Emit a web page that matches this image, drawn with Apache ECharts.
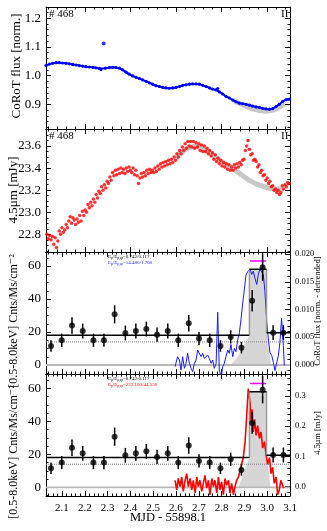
<!DOCTYPE html>
<html><head><meta charset="utf-8">
<script src="https://cdn.jsdelivr.net/npm/echarts@6/dist/echarts.min.js"></script>
<style>html,body{margin:0;padding:0;background:#fff}#c{width:327px;height:531px}</style>
</head><body><div id="c"></div>
<script>
// ---------- DATA ----------
// Panel 1: CoRoT normalised flux
const corotT = [2.030,2.045,2.059,2.074,2.088,2.103,2.118,2.132,2.147,2.162,2.176,2.191,2.205,2.220,2.235,2.249,2.264,2.271,2.290,2.308,2.322,2.337,2.352,2.366,2.381,2.395,2.410,2.425,2.439,2.454,2.469,2.483,2.498,2.512,2.527,2.542,2.556,2.571,2.586,2.600,2.615,2.630,2.644,2.659,2.673,2.688,2.703,2.717,2.732,2.747,2.761,2.776,2.783,2.790,2.805,2.819,2.834,2.849,2.863,2.878,2.893,2.907,2.922,2.936,2.951,2.966,2.980,2.995,3.010,3.024,3.039,3.053,3.068,3.083,3.097];
const corotFlux = [1.035,1.040,1.043,1.045,1.045,1.044,1.043,1.041,1.039,1.037,1.035,1.033,1.031,1.030,1.029,1.027,1.025,1.021,1.026,1.028,1.029,1.028,1.026,1.020,1.012,1.005,0.999,0.994,0.990,0.985,0.980,0.975,0.970,0.965,0.962,0.959,0.957,0.956,0.957,0.959,0.962,0.966,0.968,0.970,0.971,0.971,0.970,0.966,0.962,0.957,0.953,0.950,0.955,0.943,0.936,0.928,0.922,0.915,0.909,0.904,0.902,0.900,0.897,0.894,0.891,0.889,0.886,0.884,0.883,0.885,0.892,0.900,0.910,0.916,0.918];
const corotOutlierT = [2.283];
const corotOutlierFlux = [1.112];
const corotModelT = [2.849,2.878,2.907,2.936,2.966,2.995,3.024,3.053,3.075];
const corotModelFlux = [0.915,0.903,0.893,0.884,0.878,0.876,0.879,0.889,0.902];

// Panel 2: Spitzer 4.5um
const spitzerT = [2.034,2.040,2.046,2.052,2.058,2.064,2.070,2.076,2.082,2.088,
2.094,2.100,2.106,2.112,2.118,2.124,2.130,2.136,2.142,2.148,
2.154,2.160,2.166,2.172,2.178,2.184,2.190,2.196,2.202,2.208,
2.214,2.220,2.226,2.232,2.238,2.244,2.250,2.256,2.262,2.268,
2.274,2.280,2.286,2.292,2.298,2.304,2.310,2.316,2.322,2.328,
2.334,2.340,2.346,2.352,2.358,2.364,2.370,2.376,2.382,2.388,
2.394,2.400,2.406,2.412,2.418,2.424,2.430,2.436,2.442,2.448,
2.454,2.460,2.466,2.472,2.478,2.484,2.490,2.496,2.502,2.508,
2.514,2.520,2.526,2.532,2.538,2.544,2.550,2.556,2.562,2.568,
2.574,2.580,2.586,2.592,2.598,2.604,2.610,2.616,2.622,2.628,
2.634,2.640,2.646,2.652,2.658,2.664,2.670,2.676,2.682,2.688,
2.694,2.700,2.706,2.712,2.718,2.724,2.730,2.736,2.742,2.748,
2.754,2.760,2.766,2.772,2.778,2.784,2.790,2.796,2.802,2.808,
2.814,2.820,2.826,2.832,2.838,2.844,2.850,2.856,2.862,2.868,
2.874,2.880,2.886,2.892,2.898,2.904,2.910,2.916,2.922,2.928,
2.934,2.940,2.946,2.952,2.958,2.964,2.970,2.976,2.982,2.988,
2.994,3.000,3.006,3.012,3.018,3.024,3.030,3.036,3.042,3.048,
3.054,3.060,3.066,3.072,3.078,3.084,3.090,3.096];
const spitzerFlux = [22.80,22.76,22.79,22.75,22.78,22.71,22.77,22.68,22.74,22.83,
22.80,22.86,22.82,22.84,22.89,22.86,22.92,22.96,22.90,22.95,
22.93,22.89,22.94,22.91,22.97,22.92,23.01,22.97,23.02,23.00,
23.07,23.04,23.09,23.06,23.12,23.09,23.16,23.13,23.19,23.17,
23.23,23.20,23.25,23.22,23.28,23.26,23.32,23.29,23.36,23.33,
23.38,23.34,23.39,23.35,23.40,23.36,23.39,23.35,23.40,23.37,
23.41,23.38,23.36,23.40,23.34,23.38,23.33,23.26,23.31,23.35,
23.32,23.36,23.33,23.38,23.35,23.39,23.36,23.38,23.36,23.40,
23.37,23.42,23.39,23.44,23.41,23.45,23.42,23.46,23.43,23.47,
23.44,23.48,23.45,23.50,23.47,23.53,23.50,23.56,23.53,23.59,
23.56,23.62,23.58,23.64,23.60,23.64,23.59,23.64,23.58,23.63,
23.59,23.62,23.56,23.61,23.55,23.60,23.55,23.58,23.53,23.56,
23.51,23.54,23.48,23.52,23.46,23.49,23.44,23.47,23.42,23.45,
23.41,23.44,23.39,23.43,23.38,23.41,23.38,23.43,23.40,23.44,
23.41,23.45,23.43,23.47,23.48,23.56,23.60,23.65,23.57,23.52,
23.53,23.47,23.48,23.46,23.41,23.43,23.36,23.38,23.33,23.34,
23.29,23.31,23.26,23.28,23.23,23.24,23.20,23.21,23.18,23.20,
23.16,23.18,23.24,23.21,23.25,23.23,23.27,23.26];
const spitzerModelT = [2.60,2.64,2.68,2.72,2.76,2.80,2.84,2.88,2.92,2.96,3.00,3.04,3.07];
const spitzerModelFlux = [23.49,23.57,23.60,23.58,23.52,23.46,23.41,23.35,23.29,23.25,23.22,23.21,23.21];

// Panels 3/4: X-ray rate (Cnts/Ms/cm^-2)
const xrayT = [2.052,2.099,2.144,2.191,2.238,2.284,2.331,2.378,2.424,2.470,2.517,2.564,2.610,2.656,2.701,2.748,2.795,2.840,2.887,2.934,2.980,3.026,3.071];
const xrayRate = [11.5,15,24,20.6,15,15,30.7,19.4,20.6,21.8,18.4,20.6,15,25.3,16,15,11.5,17,10.5,39,59.2,19.6,19.6];
const xrayErr = [3.5,4,5,4.5,4,4,5.5,4.5,4.5,4.5,4.3,4.5,4,5,4,4,3.5,4,3.5,6.5,8.3,4.5,4.5];
const blockEdges = [2.03,2.922,2.997,3.1];
const blockLevels = [18,58,19.5];
const meanLevel = 14;
const flareFill3T = [2.840,2.870,2.895,2.922,2.922,2.997,2.997,3.008,3.017];
const flareFill3Y = [0,5,11,18,58,58,19.5,9,0];
const flareFill4T = [2.873,2.895,2.922,2.922,2.997,2.997,3.008,3.015];
const flareFill4Y = [0,8,18,58,58,19.5,8,0];
const magentaT = [2.925,2.995];
const magentaLevel = 63;

// Panel 3: CoRoT detrended
const corotDetT = [2.596,2.607,2.615,2.622,2.629,2.637,2.644,2.651,2.659,2.666,2.673,2.681,2.688,2.695,2.703,2.710,2.717,2.724,2.732,2.739,2.746,2.754,2.761,2.768,2.776,2.783,2.790,2.798,2.805,2.812,2.819,2.827,2.834,2.841,2.849,2.856,2.863,2.871,2.878,2.885,2.893,2.900,2.907,2.914,2.925,2.932,2.939,2.946,2.954,2.961,2.968,2.976,2.983,2.990,2.998,3.005,3.012,3.020,3.027,3.034,3.042,3.049,3.056,3.063,3.071,3.075];
const corotDetFlux = [-0.0003,0.0015,0.0009,-0.0009,0.0015,-0.0006,0.0003,0.0021,0.0003,-0.0006,-0.0012,0.0003,0.0009,0.0027,0.0024,0.0015,0.0021,0.0012,0.0009,0.0018,0.0012,0.0003,0.0009,-0.0006,0.0003,0.0095,-0.0009,-0.0021,-0.0003,0.0003,0.0015,0.0027,0.0021,0.0037,0.0015,0.0030,0.0024,0.0046,0.0058,0.0082,0.0113,0.0137,0.0162,0.0168,0.0173,0.0163,0.0169,0.0157,0.0145,0.0163,0.0173,0.0176,0.0163,0.0133,0.0078,0.0047,0.0023,0.0017,0.0005,-0.0010,-0.0007,0.0017,0.0042,0.0084,0.0035,-0.0001];

// Panel 4: Spitzer detrended
const spitzerDetT = [2.596,2.603,2.610,2.618,2.625,2.632,2.640,2.647,2.654,2.662,2.669,2.676,2.684,2.691,2.698,2.705,2.713,2.720,2.727,2.735,2.742,2.749,2.757,2.764,2.771,2.779,2.786,2.793,2.800,2.808,2.815,2.822,2.830,2.837,2.844,2.852,2.859,2.866,2.874,2.881,2.888,2.895,2.903,2.910,2.917,2.925,2.929,2.934,2.939,2.945,2.951,2.958,2.966,2.973,2.980,2.988,2.995,3.002,3.010,3.017,3.024,3.031,3.039,3.046,3.053,3.060,3.068,3.072];
const spitzerDetFlux = [0.021,-0.011,0.027,0,0.032,-0.016,0.021,0.043,0,0.027,-0.011,0.021,-0.021,0.032,0,0.021,-0.016,0.011,0.037,-0.005,0.021,-0.027,0.027,0,0.021,-0.021,0.032,-0.011,0.016,-0.027,0.027,0.005,0.021,-0.021,0.011,-0.027,0,0.021,0.032,0.053,0.074,0.096,0.149,0.234,0.325,0.277,0.213,0.255,0.181,0.223,0.170,0.202,0.160,0.181,0.128,0.149,0.106,0.074,0.096,0.043,0.064,0.011,0.032,-0.027,-0.011,0.021,0.027,-0.005];

// Tick labels
const xLabelsBottom = [2.1,2.2,2.3,2.4,2.5,2.6,2.7,2.8,2.9,3.0,3.1];
const xMajorTop = [2.2,2.4,2.6,2.8,3.0];
const yTicks1 = [0.9,1.0,1.1,1.2];
const yTicks2 = [22.8,23.0,23.2,23.4,23.6];
const yTicksRate = [0,20,40,60];
const yTicksCorotDet = [0,0.005,0.010,0.015,0.020];
const yTicksSpitzerDet = [0,0.1,0.2,0.3];

// ---------- CHART ----------
const FONT = "'Liberation Serif','DejaVu Serif',serif";
const XMIN = 2.03, XMAX = 3.1;
function ticks(a,b,step){const o=[];const n=Math.round((b-a)/step);for(let i=0;i<=n;i++)o.push(+(a+i*step).toFixed(6));return o;}
const zip=(a,b)=>a.map((v,i)=>[v,b[i]]);

const grids=[{top:7,height:122},{top:129,height:123},{top:252,height:122},{top:374,height:122}]
  .map(g=>({left:46,width:244,top:g.top,height:g.height,containLabel:false}));

function xAx(g,pos,major,minor,labels){
  return [
    {type:'value',gridIndex:g,position:pos,min:XMIN,max:XMAX,
     axisLine:{show:true,onZero:false,lineStyle:{color:'#000',width:1}},
     axisTick:{show:true,inside:true,length:5,customValues:major,lineStyle:{color:'#000',width:1}},
     axisLabel:{show:!!labels,customValues:labels||major,formatter:v=>v.toFixed(1),fontFamily:FONT,fontSize:11,color:'#000',margin:7},
     splitLine:{show:false}},
    {type:'value',gridIndex:g,position:pos,min:XMIN,max:XMAX,
     axisLine:{show:false,onZero:false},
     axisTick:{show:true,inside:true,length:2.5,customValues:minor,lineStyle:{color:'#000',width:1}},
     axisLabel:{show:false},splitLine:{show:false}}
  ];
}
function yAx(g,pos,min,max,major,minor,showLabel,fmt,fs,margin){
  return [
    {type:'value',gridIndex:g,position:pos,min:min,max:max,
     axisLine:{show:true,onZero:false,lineStyle:{color:'#000',width:1}},
     axisTick:{show:true,inside:true,length:5,customValues:major,lineStyle:{color:'#000',width:1}},
     axisLabel:{show:showLabel,customValues:major,formatter:fmt,fontFamily:FONT,fontSize:fs,color:'#000',margin:margin},
     splitLine:{show:false}},
    {type:'value',gridIndex:g,position:pos,min:min,max:max,
     axisLine:{show:false,onZero:false},
     axisTick:{show:true,inside:true,length:2.5,customValues:minor,lineStyle:{color:'#000',width:1}},
     axisLabel:{show:false},splitLine:{show:false}}
  ];
}
const topMinor = ticks(2.04,3.08,0.04);
const botMajor = ticks(2.1,3.0,0.1);
const botMinor = ticks(2.04,3.08,0.02);
const f1=v=>v.toFixed(1), f0=v=>String(Math.round(v)), f3=v=>v.toFixed(3);

const xAxis=[].concat(
  xAx(0,'bottom',xMajorTop,topMinor,null), xAx(0,'top',xMajorTop,topMinor,null),
  xAx(1,'bottom',xMajorTop,topMinor,null), xAx(1,'top',xMajorTop,topMinor,null),
  xAx(2,'bottom',botMajor,botMinor,null), xAx(2,'top',botMajor,botMinor,null),
  xAx(3,'bottom',botMajor,botMinor,xLabelsBottom), xAx(3,'top',botMajor,botMinor,null)
);
const R1=[0.814,1.239], R2=[22.64,23.754], RR3=[-5.45,68.5], RC=[-0.00162,0.02036], RR4=[-5.27,68.7], RS=[-0.031,0.373];
const yAxis=[].concat(
  yAx(0,'left',R1[0],R1[1],yTicks1,ticks(0.82,1.22,0.02),true,f1,13,5),
  yAx(0,'right',R1[0],R1[1],yTicks1,ticks(0.82,1.22,0.02),false,f1,9,5),
  yAx(1,'left',R2[0],R2[1],yTicks2,ticks(22.65,23.75,0.05),true,f1,13,5),
  yAx(1,'right',R2[0],R2[1],yTicks2,ticks(22.65,23.75,0.05),false,f1,9,5),
  yAx(2,'left',RR3[0],RR3[1],yTicksRate,ticks(-5,65,5),true,f0,13,5),
  yAx(2,'right',RC[0],RC[1],yTicksCorotDet,ticks(-0.001,0.020,0.001),true,f3,8.5,5),
  yAx(3,'left',RR4[0],RR4[1],yTicksRate,ticks(-5,65,5),true,f0,13,5),
  yAx(3,'right',RS[0],RS[1],yTicksSpitzerDet,ticks(-0.02,0.36,0.02),true,f1,8.5,5)
);

function lineS(g,yi,data,color,width,extra){
  return Object.assign({type:'line',xAxisIndex:4*g,yAxisIndex:4*g+yi,data:data,symbol:'none',
    lineStyle:{color:color,width:width},itemStyle:{color:color},silent:true},extra||{});
}
const series=[];
// Panel 1
series.push(lineS(0,0,zip(corotModelT,corotModelFlux),'#c8c8c8',5,{z:1}));
series.push(lineS(0,0,zip(corotT,corotFlux),'#0000ff',2,{z:2,symbol:'circle',symbolSize:3.2,showSymbol:true}));
series.push({type:'scatter',xAxisIndex:0,yAxisIndex:0,data:zip(corotOutlierT,corotOutlierFlux),symbolSize:4,itemStyle:{color:'#0000ff'},z:3});
// Panel 2
series.push(lineS(1,0,zip(spitzerModelT,spitzerModelFlux),'#c8c8c8',5,{z:1}));
series.push({type:'scatter',xAxisIndex:4,yAxisIndex:4,data:zip(spitzerT,spitzerFlux),symbolSize:3.5,itemStyle:{color:'#ff0000'},z:2});

// Panels 3 & 4
function xrayPanel(g,fillT,fillY,curveT,curveY,curveColor,curveWidth){
  series.push(lineS(g,0,zip(fillT,fillY),'#d6d6d6',0,{z:1,areaStyle:{color:'#d6d6d6',opacity:1},lineStyle:{width:0}}));
  series.push(lineS(g,0,[[XMIN,0],[XMAX,0]],'#b8b8b8',1.8,{z:2}));
  series.push(lineS(g,0,[[XMIN,meanLevel],[XMAX,meanLevel]],'#808080',1,{z:2,lineStyle:{color:'#808080',width:1,type:'dotted'}}));
  series.push(lineS(g,2,zip(curveT,curveY),curveColor,curveWidth,{z:3}));
  for(let i=1;i<blockEdges.length-1;i++){
    series.push(lineS(g,0,[[blockEdges[i],blockLevels[i-1]],[blockEdges[i],blockLevels[i]]],'#999999',1.5,{z:4}));
  }
  for(let i=0;i<blockLevels.length;i++){
    series.push(lineS(g,0,[[blockEdges[i],blockLevels[i]],[blockEdges[i+1],blockLevels[i]]],'#000',1.5,{z:5}));
  }
  series.push(lineS(g,0,[[magentaT[0],magentaLevel],[magentaT[1],magentaLevel]],'#ff00ff',1.5,{z:5}));
  series.push({type:'custom',xAxisIndex:4*g,yAxisIndex:4*g,z:6,silent:true,
    data:xrayT.map((t,i)=>[t,xrayRate[i]-xrayErr[i],xrayRate[i]+xrayErr[i]]),
    encode:{x:0,y:[1,2]},
    renderItem:function(p,api){const x=api.value(0);const a=api.coord([x,api.value(1)]),b=api.coord([x,api.value(2)]);
      return {type:'line',shape:{x1:a[0],y1:a[1],x2:b[0],y2:b[1]},style:{stroke:'#000',lineWidth:1.5}};}});
  series.push({type:'scatter',xAxisIndex:4*g,yAxisIndex:4*g,data:zip(xrayT,xrayRate),symbolSize:6,itemStyle:{color:'#000'},z:7});
}
xrayPanel(2,flareFill3T,flareFill3Y,corotDetT,corotDetFlux,'#1a1aff',1);
xrayPanel(3,flareFill4T,flareFill4Y,spitzerDetT,spitzerDetFlux,'#ff0000',1.6);

function txt(x,y,text,fs,opts){
  return Object.assign({type:'text',x:x,y:y,silent:true,z:100,
    style:Object.assign({text:text,fontFamily:FONT,fontSize:fs,fill:'#000',align:'left',verticalAlign:'top'},(opts&&opts.style)||{})},
    opts&&opts.rotation!==undefined?{rotation:opts.rotation}:{});
}
const rot=Math.PI/2, ctr={align:'center',verticalAlign:'middle'};
function epText(x,y,val,color){
  return {type:'text',x:x,y:y,silent:true,z:100,style:{
    text:'{n|E}{s|p}{n|/E}{s|p,sp}{n|='+val+'}',fontFamily:FONT,fill:color,align:'left',verticalAlign:'middle',
    rich:{n:{fontSize:5,fill:color,fontFamily:FONT},s:{fontSize:3.5,fill:color,fontFamily:FONT,padding:[2,0,0,0]}}}};
}
const graphic=[
  txt(49,9,'# 468',11), txt(281,9,'II',11),
  txt(49,131,'# 468',11), txt(281,131,'II',11),
  txt(17,66,'CoRoT flux [norm.]',13,{rotation:rot,style:ctr}),
  txt(14,190,'4.5\u03bcm [mJy]',13,{rotation:rot,style:ctr}),
  txt(14,321,'[0.5-8.0keV] Cnts/Ms/cm\u207b\u00b2',12,{rotation:rot,style:ctr}),
  txt(14,452,'[0.5-8.0keV] Cnts/Ms/cm\u207b\u00b2',12,{rotation:rot,style:ctr}),
  txt(318,311,'CoRoT flux [norm. - detrended]',8.5,{rotation:rot,style:ctr}),
  txt(318,433,'4.5\u03bcm [mJy]',8.5,{rotation:rot,style:ctr}),
  txt(168,518,'MJD - 55898.1',12.5,{style:ctr}),
  epText(108,257,'0.742/0.117','#000'), epText(108,263,'14.480/1.760','#1a1aff'),
  epText(108,379,'0.742/0.117','#000'), epText(108,385,'223.100/44.550','#ff0000')
];

const chart=echarts.init(document.getElementById('c'),null,{renderer:'canvas'});
chart.setOption({animation:false,backgroundColor:'#fff',grid:grids,xAxis:xAxis,yAxis:yAxis,series:series,graphic:graphic});
</script></body></html>
